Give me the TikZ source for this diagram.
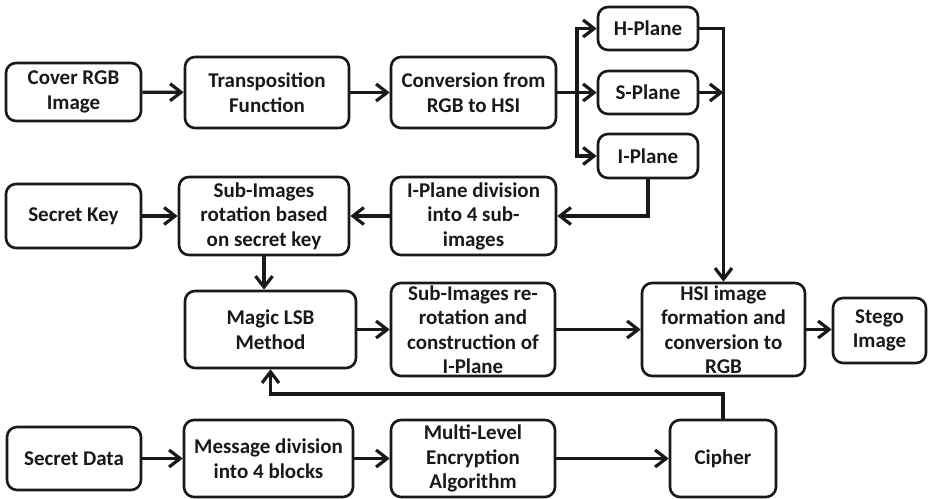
\documentclass[tikz,border=0pt]{standalone}
\usepackage{fontspec}
\setmainfont{Carlito}
\usetikzlibrary{arrows.meta}
\begin{document}
\begin{tikzpicture}[x=1pt,y=-1pt,
  box/.style={draw=black!90,line width=2.6pt,rounded corners=10pt,align=center,
    font=\fontsize{21}{24.5}\selectfont\bfseries,text=black!90,inner sep=0pt},
  conn/.style={draw=black!90,line width=3.2pt,-{Straight Barb[length=11pt,width=17pt]}},
  line/.style={draw=black!90,line width=3.2pt}]
\useasboundingbox (0,0) rectangle (929,498);
\node[box,minimum width=135pt,minimum height=58pt] (cover) at (73.5,92) {Cover RGB\\Image};
\node[box,minimum width=164pt,minimum height=71pt] (trans) at (267,92.5) {Transposition\\Function};
\node[box,minimum width=165pt,minimum height=71pt] (conv) at (473.5,92.5) {Conversion from\\RGB to HSI};
\node[box,minimum width=100pt,minimum height=43pt] (hpl) at (648,28.5) {H-Plane};
\node[box,minimum width=100pt,minimum height=43pt] (spl) at (648,92.5) {S-Plane};
\node[box,minimum width=100pt,minimum height=44pt] (ipl) at (648,156) {I-Plane};
\node[box,minimum width=135pt,minimum height=64pt] (skey) at (73.5,216) {Secret Key};
\node[box,minimum width=170pt,minimum height=78pt] (rot) at (264,216) {Sub-Images\\rotation based\\on secret key};
\node[box,minimum width=165pt,minimum height=78pt] (idiv) at (473.5,216) {I-Plane division\\into 4 sub-\\images};
\node[box,minimum width=171pt,minimum height=77pt] (magic) at (270.5,329.5) {Magic LSB\\Method};
\node[box,minimum width=164pt,minimum height=93pt] (rerot) at (473,329.5) {Sub-Images re-\\rotation and\\construction of\\I-Plane};
\node[box,minimum width=163pt,minimum height=93pt] (hsi) at (723.5,329.5) {HSI image\\formation and\\conversion to\\RGB};
\node[box,minimum width=93pt,minimum height=65pt] (stego) at (879.5,330.5) {Stego\\Image};
\node[box,minimum width=134pt,minimum height=63pt] (sdata) at (74,458.5) {Secret Data};
\node[box,minimum width=169pt,minimum height=77pt] (msg) at (268.5,458.5) {Message division\\into 4 blocks};
\node[box,minimum width=164pt,minimum height=77pt] (multi) at (473,458.5) {Multi-Level\\Encryption\\Algorithm};
\node[box,minimum width=106pt,minimum height=77pt] (cipher) at (723,458.5) {Cipher};
\coordinate (br) at (577,92.5);
\coordinate (sj) at (723.5,92.5);
\coordinate (fb) at (270.5,394);
\draw[conn] (cover) -- (trans);
\draw[conn] (trans) -- (conv);
\draw[conn] (conv.east) -- (spl.west);
\draw[conn] (br) |- (hpl.west);
\draw[conn] (br) |- (ipl.west);
\draw[line] (hpl.east) -| (sj);
\draw[conn] (sj) -- (hsi.north);
\draw[conn] (spl.east) -- (sj);
\draw[conn] (ipl.south) |- (idiv.east);
\draw[conn] (idiv) -- (rot);
\draw[conn] (skey) -- (rot);
\draw[conn] (rot.south) -- (rot.south |- magic.north);
\draw[conn] (magic) -- (rerot);
\draw[conn] (rerot) -- (hsi);
\draw[conn] (hsi.east) -- (hsi.east -| stego.west);
\draw[conn] (sdata) -- (msg);
\draw[conn] (msg) -- (multi);
\draw[conn] (multi) -- (cipher);
\draw[conn] (cipher.north) |- (fb) -- (magic.south);
\end{tikzpicture}
\end{document}
